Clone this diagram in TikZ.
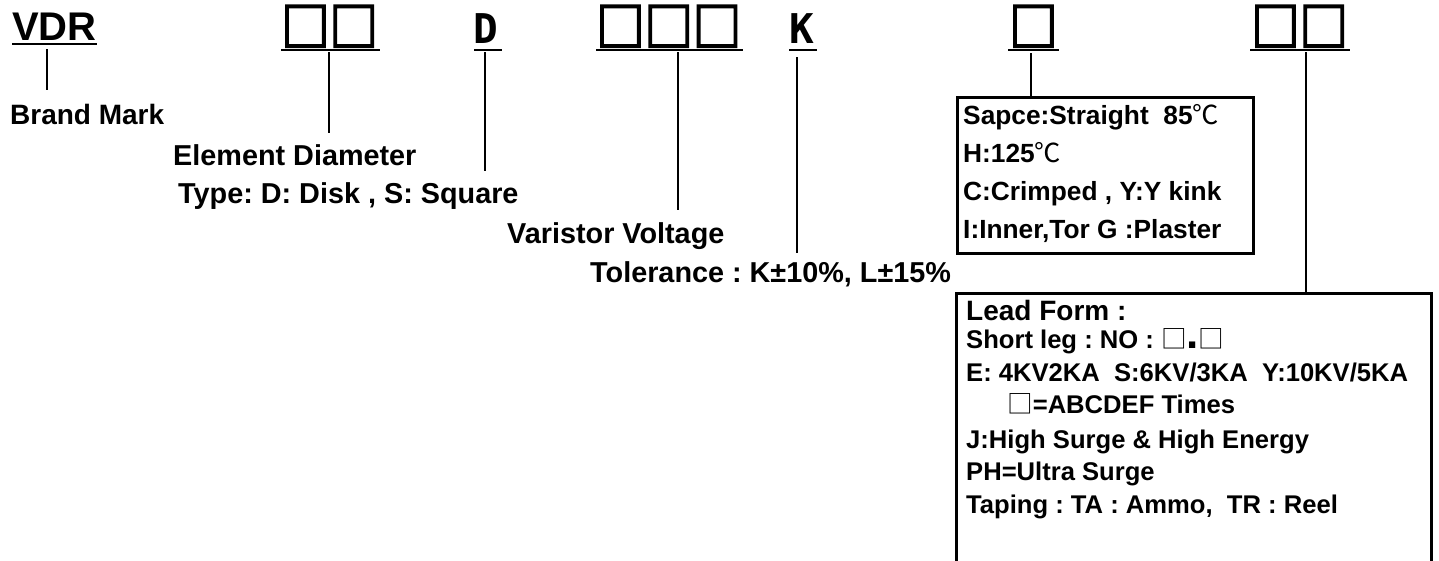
\documentclass[tikz,border=0pt]{standalone}
\usepackage{fontspec}
\setmainfont{Liberation Sans}
\newfontfamily\cjk{Noto Sans CJK SC}
\newfontfamily\cjkbox{Noto Sans CJK SC}[FakeBold=4,FakeStretch=0.93]
\newfontfamily\monob{DejaVu Sans Mono}
\frenchspacing
\begin{document}
\begin{tikzpicture}[x=1pt,y=-1pt,
  lbl/.style={anchor=base west,inner sep=0,font=\fontsize{28.8}{30}\selectfont\bfseries},
  code/.style={anchor=base west,inner sep=0,font=\fontsize{52}{54}\selectfont\cjkbox},
  letter/.style={anchor=base west,inner sep=0,font=\fontsize{41}{42}\selectfont\monob\bfseries},
  ul/.style={line width=2.5pt},
  conn/.style={line width=1.6pt},
  frame/.style={draw,line width=3pt,inner sep=0,anchor=north west},
  btxt/.style={anchor=base west,inner sep=0,font=\fontsize{26.3}{28}\selectfont\bfseries},
  ctxt/.style={anchor=base west,inner sep=0,font=\fontsize{25.6}{28}\selectfont\bfseries},
]
\useasboundingbox (0,0) rectangle (1439,560);
\clip (0,0) rectangle (1439,560);

% code row
\node[anchor=base west,inner sep=0,font=\fontsize{40}{42}\selectfont\bfseries] (vdr) at (12,40) {VDR};
\draw[ul] (12,44) -- (97,44);
\node[code] (c1) at (281,46) {□□};
\draw[ul] (281,50) -- (380,50);
\node[letter] (cd) at (473,43) {D};
\draw[ul] (474,50) -- (502,50);
\node[code] (c3) at (596,46) {□□□};
\draw[ul] (596,50) -- (743,50);
\node[letter] (ck) at (789,43) {K};
\draw[ul] (789,50) -- (817,50);
\node[code] (c5) at (1009,46) {□};
\draw[ul] (1008,50) -- (1059,50);
\node[code] (c6) at (1251,46) {□□};
\draw[ul] (1250,50) -- (1350,50);

% labels
\node[lbl,font=\fontsize{28}{30}\selectfont\bfseries] (brand) at (10,124) {Brand Mark};
\node[lbl] (elem) at (173,165) {Element Diameter};
\node[lbl] (type) at (178,203) {Type: D: Disk , S: Square};
\node[lbl] (volt) at (507,243) {Varistor Voltage};
\node[lbl] (tol) at (590,282) {Tolerance : K±10\%, L±15\%};

% boxes
\node[frame,minimum width=296pt,minimum height=156pt] (box1) at (956,96) {};
\node[btxt] (b1a) at (963,124) {Sapce:Straight\ \ 85{\cjk\mdseries ℃}};
\node[btxt] (b1b) at (963,162) {H:125{\cjk\mdseries ℃}};
\node[btxt] (b1c) at (963,200) {C:Crimped , Y:Y kink};
\node[btxt] (b1d) at (963,238) {I:Inner,Tor G :Plaster};

\node[frame,minimum width=475pt,minimum height=320pt] (box2) at (955,292) {};
\node[ctxt,font=\fontsize{28}{30}\selectfont\bfseries] (b2a) at (966,320) {Lead Form :};
\node[ctxt] (b2b) at (966,348) {Short leg : NO : {\cjk\mdseries □}{\fontsize{44}{44}\selectfont .}{\cjk\mdseries □}};
\node[ctxt] (b2c) at (966,381) {E: 4KV2KA\ \ S:6KV/3KA\ \ Y:10KV/5KA};
\node[ctxt] (b2d) at (1007,413) {{\cjk\mdseries □}=ABCDEF Times};
\node[ctxt] (b2e) at (966,448) {J:High Surge \& High Energy};
\node[ctxt] (b2f) at (966,480) {PH=Ultra Surge};
\node[ctxt] (b2g) at (966,513) {Taping : TA : Ammo,\ \ TR : Reel};

% connectors
\coordinate (t0) at (47,49);  \coordinate (e0) at (47,90);
\coordinate (t1) at (329,52); \coordinate (e1) at (329,133);
\coordinate (t2) at (485,52); \coordinate (e2) at (485,171);
\coordinate (t3) at (678,52); \coordinate (e3) at (678,210);
\coordinate (t4) at (797,57); \coordinate (e4) at (797,253);
\coordinate (t5) at (1031,53);
\coordinate (t6) at (1306,52);
\draw[conn] (t0) -- (e0);
\draw[conn] (t1) -- (e1);
\draw[conn] (t2) -- (e2);
\draw[conn] (t3) -- (e3);
\draw[conn] (t4) -- (e4);
\draw[conn] (t5) -- (t5 |- box1.north);
\draw[conn] (t6) -- (t6 |- box2.north);
\end{tikzpicture}
\end{document}
